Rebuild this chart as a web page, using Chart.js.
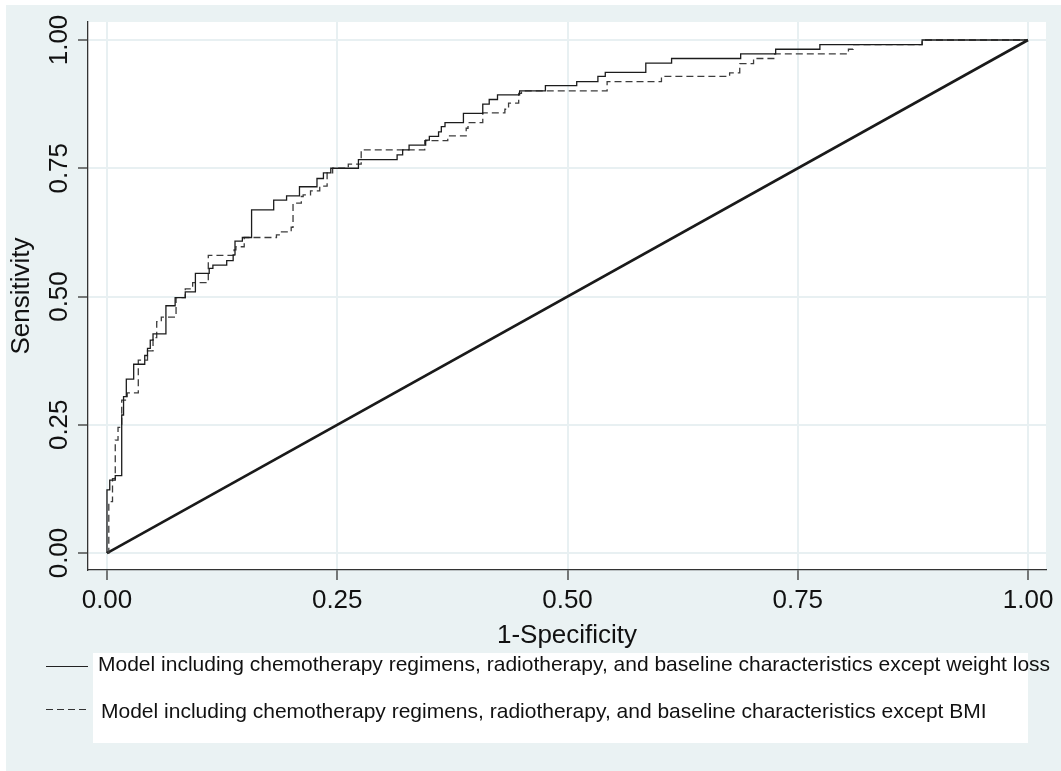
<!DOCTYPE html>
<html>
<head>
<meta charset="utf-8">
<title>ROC curves</title>
<script src="https://cdn.jsdelivr.net/npm/chart.js@4.4.1/dist/chart.umd.min.js"></script>
<style>
    html, body { margin: 0; padding: 0; background: #fff; }
    #wrap { position: relative; width: 1061px; height: 771px; overflow: hidden; }
    #roc { position: absolute; left: 0; top: 0; }
    .legend-box { position: absolute; left: 93px; top: 653px; width: 935px; height: 90px; background: #fff; }
    .legend-key { position: absolute; left: 46px; width: 42px; height: 1px; }
    .legend-text {
        position: absolute;
        font-family: "Liberation Sans", Arial, sans-serif;
        font-size: 21px;
        line-height: 22px;
        color: #111;
        white-space: nowrap;
    }
</style>
</head>
<body>
<div id="wrap">
    <canvas id="roc" width="1061" height="771"></canvas>
    <div class="legend-box"></div>
    <div class="legend-key" style="top:666px;background:#222"></div>
    <div class="legend-key" style="top:709px;background:repeating-linear-gradient(to right,#333 0 7px,transparent 7px 11px)"></div>
    <div class="legend-text" id="label-0" style="left:98px;top:653px"></div>
    <div class="legend-text" id="label-1" style="left:101px;top:700px"></div>
</div>

<script>
// Tick labels on both axes
const tickValues = [0, 0.25, 0.5, 0.75, 1];

const seriesNames = [
    "Model including chemotherapy regimens, radiotherapy, and baseline characteristics except weight loss",
    "Model including chemotherapy regimens, radiotherapy, and baseline characteristics except BMI"
];

// Model without weight loss (solid) - 1-specificity / sensitivity at each step
const fprNoWeightLoss = [0, 0, 0.003, 0.009, 0.016, 0.018, 0.021, 0.029, 0.041, 0.044, 0.047, 0.050,
    0.064, 0.074, 0.085, 0.096, 0.111, 0.115, 0.130, 0.137, 0.139, 0.147, 0.157, 0.181, 0.195,
    0.209, 0.228, 0.235, 0.243, 0.273, 0.315, 0.321, 0.328, 0.346, 0.350, 0.360, 0.363, 0.367,
    0.387, 0.408, 0.415, 0.424, 0.448, 0.476, 0.510, 0.533, 0.541, 0.585, 0.613, 0.688, 0.726,
    0.774, 0.885, 1.000];
const tprNoWeightLoss = [0, 0.123, 0.142, 0.151, 0.269, 0.305, 0.339, 0.368, 0.385, 0.399, 0.415, 0.427,
    0.482, 0.498, 0.509, 0.545, 0.555, 0.561, 0.570, 0.581, 0.608, 0.615, 0.669, 0.688, 0.696,
    0.714, 0.730, 0.741, 0.750, 0.767, 0.776, 0.786, 0.795, 0.805, 0.812, 0.821, 0.831, 0.839,
    0.857, 0.875, 0.884, 0.893, 0.901, 0.911, 0.919, 0.929, 0.937, 0.955, 0.964, 0.973, 0.982,
    0.991, 1.000, 1.000];

// Model without BMI (dashed)
const fprNoBmi = [0, 0.002, 0.006, 0.009, 0.012, 0.016, 0.022, 0.034, 0.044, 0.050, 0.054, 0.059,
    0.075, 0.085, 0.093, 0.110, 0.138, 0.140, 0.149, 0.184, 0.188, 0.200, 0.202, 0.211, 0.213,
    0.221, 0.231, 0.239, 0.245, 0.262, 0.276, 0.345, 0.370, 0.390, 0.392, 0.408, 0.432, 0.436,
    0.447, 0.450, 0.543, 0.602, 0.676, 0.687, 0.702, 0.725, 0.805, 0.810, 0.885, 1.000];
const tprNoBmi = [0, 0.100, 0.145, 0.220, 0.245, 0.298, 0.312, 0.376, 0.394, 0.420, 0.451, 0.460,
    0.498, 0.515, 0.527, 0.580, 0.591, 0.597, 0.615, 0.620, 0.626, 0.635, 0.682, 0.695, 0.698,
    0.706, 0.715, 0.741, 0.750, 0.758, 0.786, 0.804, 0.813, 0.828, 0.839, 0.858, 0.865, 0.877,
    0.896, 0.901, 0.919, 0.929, 0.936, 0.954, 0.964, 0.973, 0.982, 0.991, 1.000, 1.000];

// Reference (chance) line
const referenceX = [0, 1];
const referenceY = [0, 1];

const toPoints = (xs, ys) => xs.map((x, i) => ({ x: x, y: ys[i] }));

document.getElementById("label-0").textContent = seriesNames[0];
document.getElementById("label-1").textContent = seriesNames[1];

Chart.defaults.font.family = '"Liberation Sans", Arial, sans-serif';
Chart.defaults.color = "#111";

// Graph region (light bluish gray) and white plot region
const plotBackground = {
    id: "plotBackground",
    beforeDraw(chart) {
        const { ctx, chartArea: a, width, height } = chart;
        ctx.save();
        ctx.fillStyle = "#ffffff";
        ctx.fillRect(0, 0, width, height);
        ctx.fillStyle = "#eaf2f3";
        ctx.fillRect(6, 5, width - 6, height - 5);
        ctx.fillStyle = "#ffffff";
        ctx.fillRect(a.left, a.top, a.right - a.left, a.bottom - a.top);
        ctx.restore();
    }
};

const fixedTicks = (scale) => {
    scale.ticks = tickValues.map((v) => ({ value: v }));
};

const gridStyle = {
    color: "#e8f0f2",
    lineWidth: 2,
    tickLength: 10,
    tickColor: "#333",
    tickWidth: 1.3
};

new Chart(document.getElementById("roc"), {
    type: "line",
    data: {
        datasets: [
            {
                label: seriesNames[0],
                data: toPoints(fprNoWeightLoss, tprNoWeightLoss),
                stepped: "before",
                borderColor: "#1c1c1c",
                borderWidth: 1.3
            },
            {
                label: seriesNames[1],
                data: toPoints(fprNoBmi, tprNoBmi),
                stepped: "before",
                borderColor: "#3c3c3c",
                borderWidth: 1.3,
                borderDash: [7, 4]
            },
            {
                label: "Reference",
                data: toPoints(referenceX, referenceY),
                borderColor: "#1a1a1a",
                borderWidth: 2.6
            }
        ]
    },
    options: {
        responsive: false,
        animation: false,
        events: [],
        layout: { padding: { left: 6, top: 22, right: 15, bottom: 120 } },
        elements: {
            point: { radius: 0 },
            line: { tension: 0, fill: false, borderJoinStyle: "miter" }
        },
        plugins: {
            legend: { display: false },
            tooltip: { enabled: false }
        },
        scales: {
            x: {
                type: "linear",
                min: -0.0206,
                max: 1.0195,
                afterBuildTicks: fixedTicks,
                afterFit: (s) => { s.height = 81; },
                grid: gridStyle,
                border: { display: true, color: "#333", width: 1.3 },
                ticks: {
                    autoSkip: false,
                    maxRotation: 0,
                    padding: 5,
                    font: { size: 26 },
                    callback: (v) => Number(v).toFixed(2)
                },
                title: {
                    display: true,
                    text: "1-Specificity",
                    padding: 0,
                    font: { size: 26 }
                }
            },
            y: {
                min: -0.0331,
                max: 1.0351,
                afterBuildTicks: fixedTicks,
                afterFit: (s) => { s.width = 82; },
                grid: gridStyle,
                border: { display: true, color: "#333", width: 1.3 },
                ticks: {
                    autoSkip: false,
                    minRotation: 90,
                    maxRotation: 90,
                    crossAlign: "center",
                    padding: -7,
                    font: { size: 26 },
                    callback: (v) => Number(v).toFixed(2)
                },
                title: {
                    display: true,
                    text: "Sensitivity",
                    padding: 0,
                    font: { size: 26 }
                }
            }
        }
    },
    plugins: [plotBackground]
});
</script>
</body>
</html>
